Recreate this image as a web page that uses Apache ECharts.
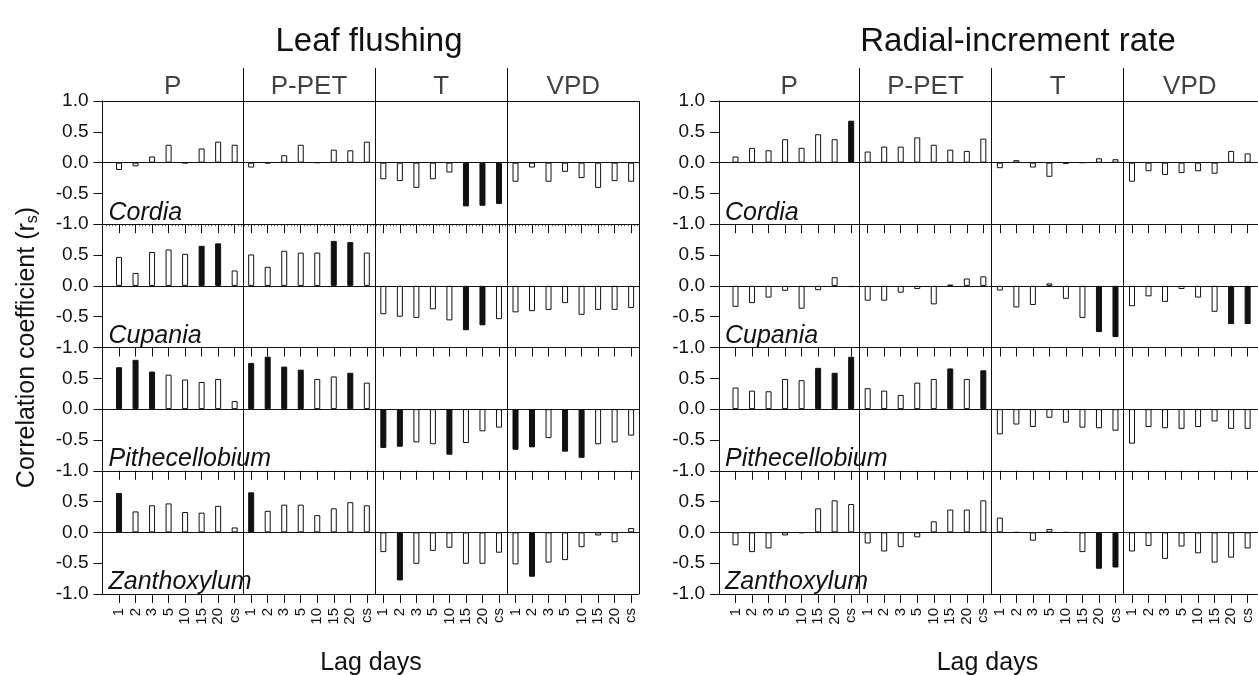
<!DOCTYPE html>
<html><head><meta charset="utf-8">
<script src="https://cdn.jsdelivr.net/npm/echarts@6/dist/echarts.min.js"></script>
<style>html,body{margin:0;padding:0;background:#fff}#c{width:1258px;height:675px}</style>
</head><body><div id="c"></div>
<script>
// ---------- data ----------
const lagLabels = ['1','2','3','5','10','15','20','cs'];
const variables = ['P','P-PET','T','VPD'];
const species = ['Cordia','Cupania','Pithecellobium','Zanthoxylum'];
const panelTitles = ['Leaf flushing','Radial-increment rate'];
const xTitle = 'Lag days';

// each array: P (8 lags), P-PET (8), T (8), VPD (8)
const leafCordia = [-0.12,-0.06,0.10,0.29,-0.01,0.23,0.34,0.29,  -0.08,-0.01,0.12,0.29,0,0.21,0.20,0.34,
                    -0.27,-0.30,-0.41,-0.27,-0.16,-0.71,-0.70,-0.67,  -0.31,-0.08,-0.31,-0.15,-0.25,-0.41,-0.30,-0.31];
const leafCupania = [0.47,0.21,0.55,0.59,0.52,0.65,0.69,0.25,  0.51,0.31,0.57,0.54,0.54,0.73,0.71,0.54,
                     -0.46,-0.50,-0.52,-0.38,-0.56,-0.72,-0.64,-0.54,  -0.43,-0.41,-0.39,-0.28,-0.47,-0.39,-0.39,-0.36];
const leafPithecellobium = [0.68,0.80,0.61,0.56,0.48,0.44,0.49,0.13,  0.75,0.85,0.69,0.64,0.49,0.53,0.59,0.43,
                     -0.63,-0.61,-0.54,-0.57,-0.74,-0.55,-0.36,-0.30,  -0.66,-0.62,-0.47,-0.69,-0.79,-0.57,-0.54,-0.43];
const leafZanthoxylum = [0.64,0.34,0.44,0.47,0.33,0.32,0.43,0.08,  0.65,0.35,0.45,0.45,0.28,0.39,0.49,0.44,
                     -0.32,-0.78,-0.51,-0.30,-0.25,-0.51,-0.51,-0.33,  -0.52,-0.72,-0.49,-0.45,-0.24,-0.05,-0.16,0.07];

const radCordia = [0.10,0.24,0.20,0.38,0.24,0.46,0.38,0.68,  0.18,0.26,0.26,0.41,0.29,0.21,0.19,0.39,
                   -0.09,0.04,-0.08,-0.23,-0.02,0,0.07,0.055,  -0.31,-0.14,-0.20,-0.17,-0.14,-0.18,0.19,0.15];
const radCupania = [-0.34,-0.28,-0.19,-0.08,-0.37,-0.07,0.14,-0.02,  -0.24,-0.24,-0.11,-0.05,-0.30,0.02,0.12,0.155,
                   -0.075,-0.35,-0.31,0.04,-0.21,-0.52,-0.75,-0.83,  -0.33,-0.17,-0.26,-0.05,-0.19,-0.42,-0.62,-0.62];
const radPithecellobium = [0.35,0.30,0.29,0.49,0.47,0.67,0.59,0.85,  0.34,0.30,0.23,0.43,0.49,0.66,0.49,0.63,
                   -0.41,-0.25,-0.29,-0.14,-0.22,-0.30,-0.31,-0.35,  -0.56,-0.29,-0.31,-0.32,-0.29,-0.20,-0.32,-0.32];
const radZanthoxylum = [-0.21,-0.32,-0.26,-0.05,-0.01,0.39,0.52,0.46,  -0.18,-0.31,-0.24,-0.08,0.18,0.37,0.37,0.52,
                   0.24,0,-0.135,0.055,0,-0.32,-0.59,-0.57,  -0.31,-0.22,-0.43,-0.23,-0.34,-0.49,-0.41,-0.26];

// indices (0-based, of the 32 bars) that are significant (black)
const leafCordiaSig = [21,22,23];
const leafCupaniaSig = [5,6,13,14,21,22];
const leafPithecellobiumSig = [0,1,2,8,9,10,11,14,16,17,20,24,25,27,28];
const leafZanthoxylumSig = [0,8,17,25];
const radCordiaSig = [7];
const radCupaniaSig = [22,23,30,31];
const radPithecellobiumSig = [5,6,7,13,15];
const radZanthoxylumSig = [22,23];

// ---------- layout ----------
const FONT = "'Liberation Sans', Arial, Helvetica, sans-serif";
const INK = '#111111';
const GRID_LEFT = [102.5, 719];
const SLOT = 16.52;
const XMAX = [32.5, 32.62];
const ROW_TOP = 101, ROW_H = 123.25;
const HEAD_TOP = 68, HEAD_H = 33;

const panels = [
  {rows:[leafCordia,leafCupania,leafPithecellobium,leafZanthoxylum],
   sig:[leafCordiaSig,leafCupaniaSig,leafPithecellobiumSig,leafZanthoxylumSig]},
  {rows:[radCordia,radCupania,radPithecellobium,radZanthoxylum],
   sig:[radCordiaSig,radCupaniaSig,radPithecellobiumSig,radZanthoxylumSig]}
];

const nLag = lagLabels.length;
const nBars = nLag * variables.length;
const barPos = Array.from({length:nBars}, (_, i) => i + 1);
const dividers = variables.slice(1).map((_, k) => (k + 1) * nLag + 0.5);
const colCenters = variables.map((_, k) => {
  const s = k === 0 ? 0 : k * nLag + 0.5;
  const e = (k + 1) * nLag + 0.5;
  return (s + e) / 2;
});

const grid = [], xAxis = [], yAxis = [], series = [], graphic = [];
const lineSt = {color: INK, width: 1, type: 'solid'};

panels.forEach((panel, p) => {
  const width = XMAX[p] * SLOT;
  panel.rows.forEach((vals, r) => {
    const gi = grid.length;
    grid.push({left: GRID_LEFT[p], top: ROW_TOP + r * ROW_H, width: width, height: ROW_H, show: false});
    xAxis.push({
      gridIndex: gi, type: 'value', min: 0, max: XMAX[p], interval: 1, position: 'bottom',
      axisLine: {show: false, onZero: false}, splitLine: {show: false},
      axisTick: {show: true, customValues: barPos, length: 9, lineStyle: {color: INK, width: 1}},
      minorTick: (p === 0 && r === 0) ? {show: true, splitNumber: 5, length: 2, lineStyle: {color: '#666'}} : {show: false},
      axisLabel: r === panel.rows.length - 1 ? {
        show: true, customValues: barPos, rotate: 90, fontSize: 15, fontFamily: FONT, color: INK, margin: 14,
        formatter: v => lagLabels[(Math.round(v) - 1) % nLag]
      } : {show: false}
    });
    yAxis.push({
      gridIndex: gi, type: 'value', min: -1, max: 1, interval: 0.5,
      axisLine: {show: true, lineStyle: {color: INK, width: 1}},
      axisTick: {show: true, length: 9, lineStyle: {color: INK, width: 1}},
      splitLine: {show: false},
      axisLabel: {fontSize: 19, fontFamily: FONT, color: INK, margin: 14,
        formatter: v => (r > 0 && v === 1) ? '' : v.toFixed(1)}
    });
    const sigSet = new Set(panel.sig[r]);
    const frame = [{yAxis: 0}, {yAxis: 1}, {yAxis: -1}].concat(dividers.map(d => ({xAxis: d})));
    if (p === 0) frame.push({xAxis: XMAX[p]});
    series.push({
      type: 'bar', xAxisIndex: gi, yAxisIndex: gi, barWidth: 6, silent: true, animation: false,
      itemStyle: {borderColor: INK, borderWidth: 1},
      data: vals.map((v, i) => ({value: [barPos[i], v],
        itemStyle: {color: sigSet.has(i) ? INK : '#ffffff'}})),
      markLine: {silent: true, symbol: ['none', 'none'], label: {show: false}, lineStyle: lineSt,
        animation: false, data: frame}
    });
    graphic.push({type: 'text', x: GRID_LEFT[p] + 6, y: ROW_TOP + (r + 1) * ROW_H + 1,
      style: {text: species[r], fontSize: 25, fontStyle: 'italic', fontFamily: FONT, fill: INK,
              align: 'left', verticalAlign: 'bottom'}});
  });
  // header strip
  const hi = grid.length;
  grid.push({left: GRID_LEFT[p], top: HEAD_TOP, width: width, height: HEAD_H, show: false});
  xAxis.push({gridIndex: hi, type: 'value', min: 0, max: XMAX[p], show: false});
  yAxis.push({gridIndex: hi, type: 'value', min: 0, max: 1, show: false});
  series.push({
    type: 'scatter', xAxisIndex: hi, yAxisIndex: hi, symbolSize: 1, silent: true, animation: false,
    itemStyle: {color: 'rgba(0,0,0,0)'},
    label: {show: true, position: 'inside', formatter: '{b}', fontSize: 26, fontFamily: FONT, color: INK},
    data: colCenters.map((c, k) => ({name: variables[k], value: [c, 0.42]})),
    markLine: {silent: true, symbol: ['none', 'none'], label: {show: false}, lineStyle: lineSt, animation: false,
      data: dividers.map(d => ({xAxis: d}))}
  });
  const cx = GRID_LEFT[p] + 32.5 * SLOT / 2;
  graphic.push({type: 'text', x: p === 0 ? 369 : 1018, y: 42,
    style: {text: panelTitles[p], fontSize: 33, fontFamily: FONT, fill: INK, align: 'center', verticalAlign: 'middle'}});
  graphic.push({type: 'text', x: cx, y: 663,
    style: {text: xTitle, fontSize: 25, fontFamily: FONT, fill: INK, align: 'center', verticalAlign: 'middle'}});
});

graphic.push({type: 'text', x: 27, y: ROW_TOP + 2 * ROW_H, rotation: Math.PI / 2,
  style: {text: 'Correlation coefficient (r{s|s})', fontSize: 25, fontFamily: FONT, fill: INK,
    align: 'center', verticalAlign: 'middle',
    rich: {s: {fontSize: 16, fontFamily: FONT, fill: INK, padding: [12, 0, 0, 0]}}}});

const chart = echarts.init(document.getElementById('c'), null, {renderer: 'canvas'});
chart.setOption({animation: false, backgroundColor: '#ffffff', grid, xAxis, yAxis, series, graphic});
</script></body></html>
